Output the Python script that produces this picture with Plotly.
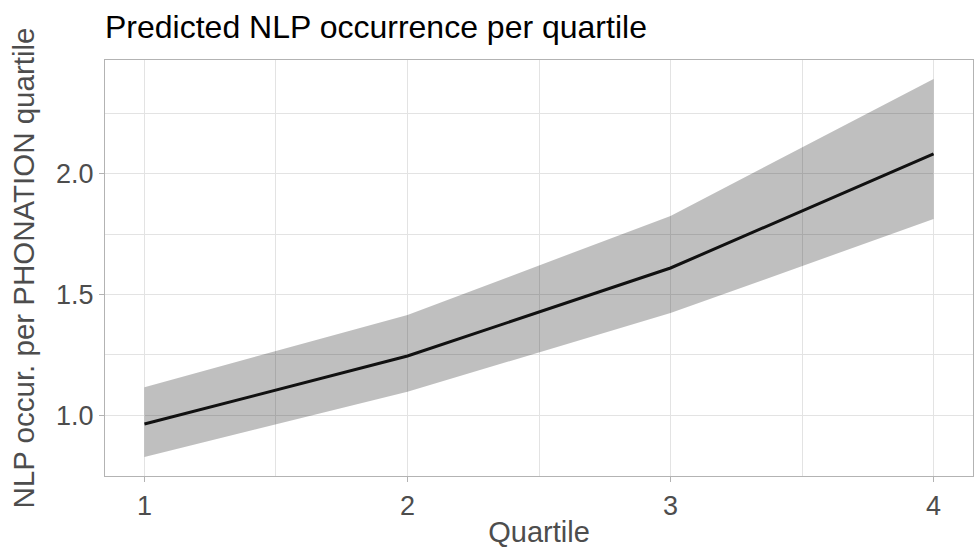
import plotly.graph_objects as go

# Predicted NLP occurrence per quartile, with confidence band
quartile = [1, 2, 3, 4]
fit = [0.963, 1.245, 1.610, 2.083]
lower = [0.826, 1.097, 1.423, 1.813]
upper = [1.116, 1.415, 1.826, 2.394]

x_ticks = [1, 2, 3, 4]
y_ticks = [1.0, 1.5, 2.0]
y_tick_text = ["1.0", "1.5", "2.0"]

FONT = "Liberation Sans, Arial, Helvetica, sans-serif"
GRID = "#e3e3e3"
BORDER = "#b3b3b3"

fig = go.Figure()

# confidence band
fig.add_trace(go.Scatter(
    x=quartile, y=upper, mode="lines", line=dict(width=0),
    showlegend=False, hoverinfo="skip"))
fig.add_trace(go.Scatter(
    x=quartile, y=lower, mode="lines", line=dict(width=0),
    fill="tonexty", fillcolor="rgba(0,0,0,0.25)",
    showlegend=False, hoverinfo="skip"))

# fitted line
fig.add_trace(go.Scatter(
    x=quartile, y=fit, mode="lines",
    line=dict(color="#111111", width=3), showlegend=False))

# expand ranges by 5% on both sides
xmin, xmax = min(quartile), max(quartile)
xpad = (xmax - xmin) * 0.05
ymin, ymax = min(lower), max(upper)
ypad = (ymax - ymin) * 0.05

axis_common = dict(
    showgrid=True, gridcolor=GRID, gridwidth=1.3,
    zeroline=False, showline=True, linecolor=BORDER, linewidth=1.3,
    mirror=True, ticks="outside", ticklen=5, tickcolor=BORDER, tickwidth=1.3,
    tickfont=dict(family=FONT, size=27, color="#4d4d4d"),
)

fig.update_layout(
    width=974, height=548,
    margin=dict(l=105, r=1, t=60, b=72),
    paper_bgcolor="white", plot_bgcolor="white",
    title=dict(
        text="Predicted NLP occurrence per quartile",
        font=dict(family=FONT, size=32, color="#000000"),
        x=105 / 974, xanchor="left", y=1 - 38 / 548, yanchor="bottom",
    ),
    xaxis=dict(
        range=[xmin - xpad, xmax + xpad], tickvals=x_ticks,
        ticktext=[str(v) for v in x_ticks],
        minor=dict(dtick=0.5, showgrid=True, gridcolor=GRID, gridwidth=0.8, ticks=""),
        title=dict(text="Quartile", standoff=7,
                   font=dict(family=FONT, size=29, color="#4d4d4d")),
        **axis_common,
    ),
    yaxis=dict(
        range=[ymin - ypad, ymax + ypad], tickvals=y_ticks, ticktext=y_tick_text,
        minor=dict(tickvals=[0.75, 1.25, 1.75, 2.25], showgrid=True,
                   gridcolor=GRID, gridwidth=0.8, ticks=""),
        title=dict(text="NLP occur. per PHONATION quartile", standoff=12,
                   font=dict(family=FONT, size=29.5, color="#4d4d4d")),
        **axis_common,
    ),
)

fig.write_html("out.html")
